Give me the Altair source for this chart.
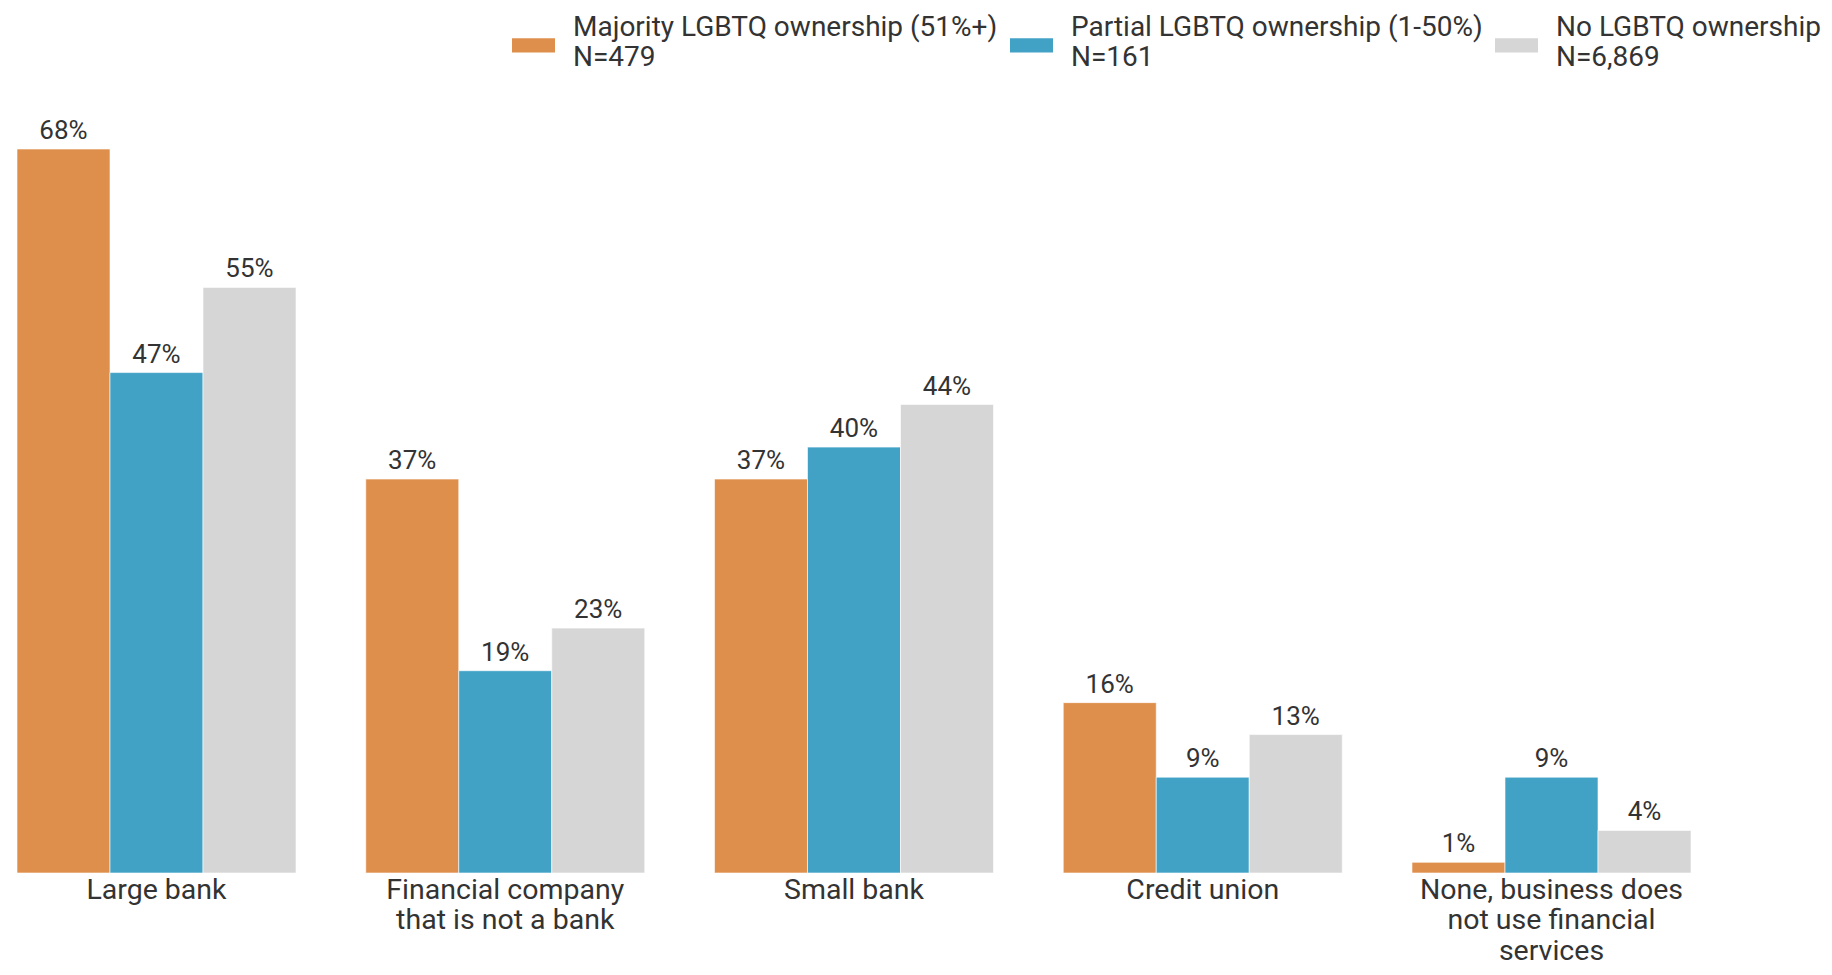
import altair as alt
import pandas as pd

categories = [
    "Large bank",
    "Financial company|that is not a bank",
    "Small bank",
    "Credit union",
    "None, business does|not use financial|services",
]
groups = [
    "Majority LGBTQ ownership (51%+)|N=479",
    "Partial LGBTQ ownership (1-50%)|N=161",
    "No LGBTQ ownership|N=6,869",
]
majority = [68, 37, 37, 16, 1]
partial = [47, 19, 40, 9, 9]
none_own = [55, 23, 44, 13, 4]
colors = ["#DE8F4B", "#42A2C6", "#D6D6D6"]

rows = []
for series, g in zip([majority, partial, none_own], groups):
    for c, v in zip(categories, series):
        rows.append({"category": c, "group": g, "value": v, "label": f"{v}%"})
df = pd.DataFrame(rows)

x_enc = alt.X(
    "category:N",
    sort=categories,
    scale=alt.Scale(paddingInner=0.2, paddingOuter=0),
    axis=alt.Axis(
        title=None,
        labelAngle=0,
        labelExpr="split(datum.label, '|')",
        labelFontSize=28.5,
        labelLineHeight=30.5,
        labelColor="#333333",
        labelPadding=2,
        ticks=False,
        tickSize=0,
        domain=False,
        labelLimit=400,
    ),
)
xoff = alt.XOffset("group:N", sort=groups, scale=alt.Scale(paddingInner=0, paddingOuter=0))
y_enc = alt.Y("value:Q", scale=alt.Scale(domain=[0, 68], nice=False, zero=True), axis=None)

bars = alt.Chart(df).mark_bar(stroke="white", strokeWidth=0.6).encode(
    x=x_enc,
    xOffset=xoff,
    y=y_enc,
    color=alt.Color(
        "group:N",
        sort=groups,
        scale=alt.Scale(domain=groups, range=colors),
        legend=alt.Legend(
            title=None,
            orient="none",
            legendX=495,
            legendY=-143,
            direction="horizontal",
            columns=3,
            labelExpr="split(datum.label, '|')",
            labelFontSize=28,
            labelColor="#333333",
            labelLimit=700,
            labelOffset=18,
            columnPadding=12,
            padding=0,
            symbolType="M-1,0.494H1V1.146H-1Z",
            symbolSize=1849,
            symbolStrokeWidth=0,
            symbolOpacity=1,
        ),
    ),
)

text = alt.Chart(df).mark_text(
    dy=-10, baseline="alphabetic", fontSize=26, color="#333333"
).encode(
    x=alt.X("category:N", sort=categories),
    xOffset=xoff,
    y=y_enc,
    text="label:N",
)

chart = (
    alt.layer(bars, text)
    .properties(
        width=1674,
        height=724,
        autosize=alt.AutoSizeParams(type="none"),
        padding={"left": 9, "top": 141, "right": 133, "bottom": 94},
    )
    .configure(font="Roboto")
    .configure_view(stroke=None)
)

chart.save("out.html", embed_options={"renderer": "svg", "actions": False})
